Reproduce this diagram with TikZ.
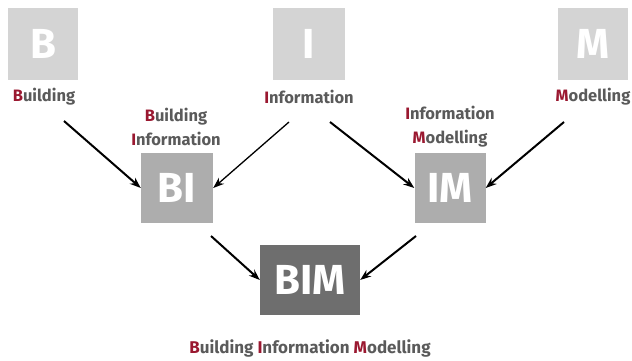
\documentclass[tikz,border=0pt]{standalone}
\usepackage{fontspec}
\setmainfont{Fira Sans}
\usepackage{tikz}
\usetikzlibrary{arrows,arrows.meta,shapes,positioning}

\definecolor{bimred}{HTML}{9A1830}
\definecolor{lblgray}{HTML}{5A5A5A}
\definecolor{lightbox}{HTML}{D4D4D4}
\definecolor{midbox}{HTML}{ADADAD}
\definecolor{darkbox}{HTML}{6E6E6E}
\newcommand{\ini}[1]{\textcolor{bimred}{#1}}

\begin{document}
\begin{tikzpicture}[x=1pt,y=-1pt,
    letter/.style={inner sep=0pt, text=white, font=\fontsize{42}{42}\selectfont\bfseries},
    lbl/.style={inner sep=0pt, text=lblgray, font=\fontsize{16.5}{24}\selectfont\bfseries, align=center},
    arr/.style={-{Stealth[length=11pt,width=8pt]}, line width=2pt}]
      \useasboundingbox (0,0) rectangle (632,361);
      % top row
      \node[letter, fill=lightbox, minimum width=70pt, minimum height=72pt] (b) at (43,44) {B};
      \node[letter, fill=lightbox, minimum width=72pt, minimum height=72pt] (i) at (309,44) {I};
      \node[letter, fill=lightbox, minimum width=70pt, minimum height=72pt] (m) at (593,44) {M};
      \node[lbl] (lb) at (44,97) {\ini{B}uilding};
      \node[lbl] (li) at (309,97) {\ini{I}nformation};
      \node[lbl] (lm) at (593,97) {\ini{M}odelling};
      % middle row
      \node[letter, fill=midbox, minimum width=72pt, minimum height=70pt] (bi) at (177,188) {BI};
      \node[letter, fill=midbox, minimum width=71pt, minimum height=70pt] (im) at (450,188) {IM};
      \node[lbl] (lbi) at (176,127) {\ini{B}uilding\\\ini{I}nformation};
      \node[lbl] (lim) at (450,127) {\ini{I}nformation\\\ini{M}odelling};
      % bottom
      \node[letter, fill=darkbox, minimum width=100pt, minimum height=70pt] (bim) at (310,280) {BIM};
      \node[lbl, font=\fontsize{17}{24}\selectfont\bfseries] (lbim) at (310,348) {\ini{B}uilding \ini{I}nformation \ini{M}odelling};
      % arrow starts
      \coordinate (sb) at (64,121);
      \coordinate (si1) at (289,122);
      \coordinate (si2) at (330,122);
      \coordinate (sm) at (564,122);
      \coordinate (sbi) at (211,236);
      \coordinate (sim) at (416,236);
      \draw[arr] (sb) -- (bi.west);
      \draw[arr, line width=1.3pt] (si1) -- (bi.east);
      \draw[arr] (si2) -- (im.west);
      \draw[arr] (sm) -- (im.east);
      \draw[arr] (sbi) -- (bim.west);
      \draw[arr] (sim) -- (bim.east);
    \end{tikzpicture}
\end{document}
